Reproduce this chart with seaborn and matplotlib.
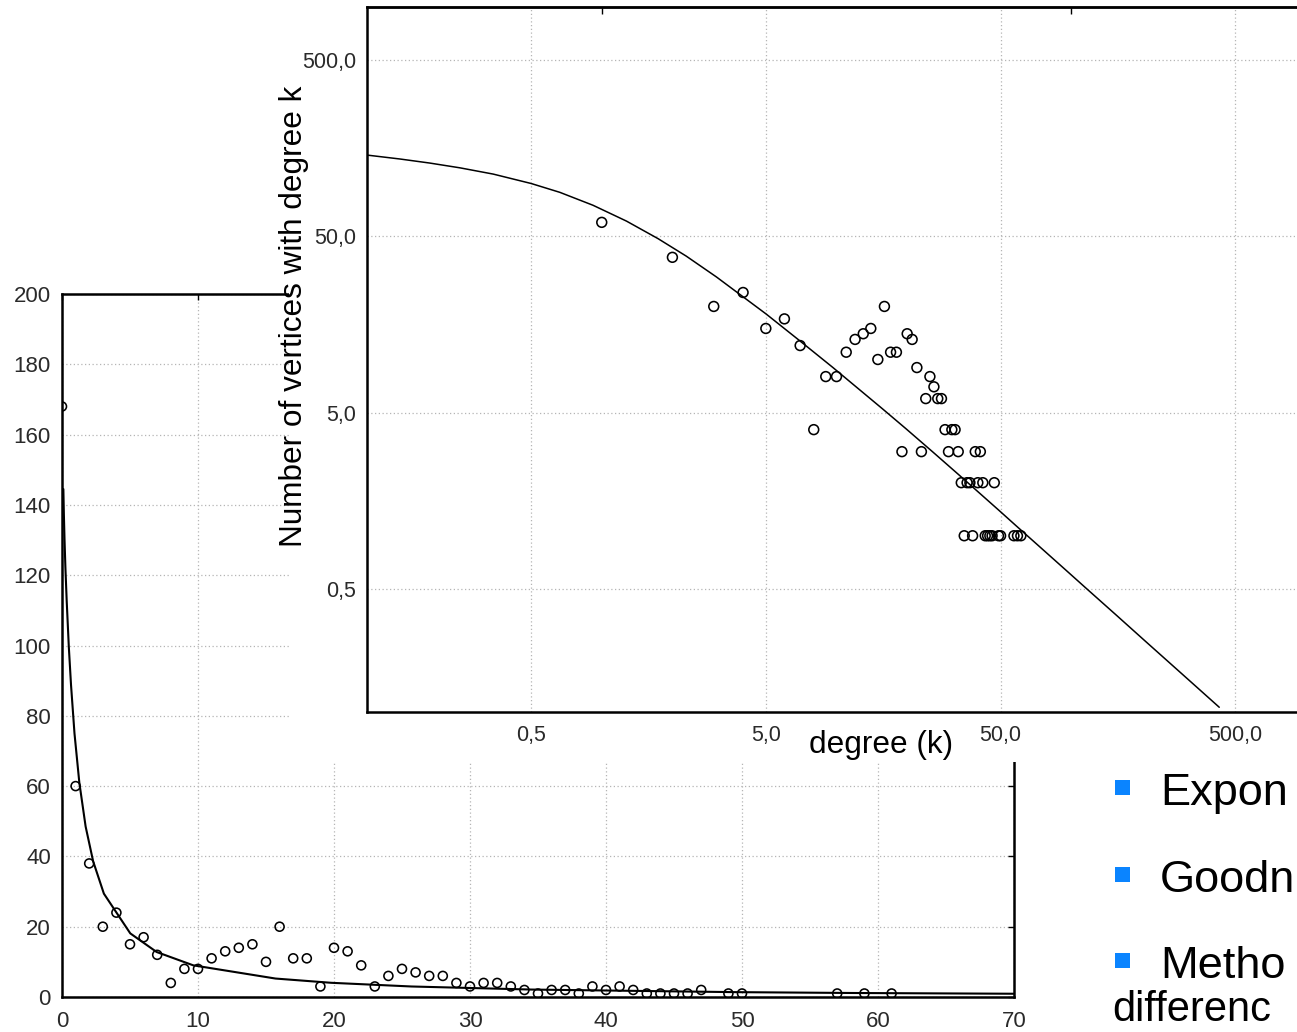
import matplotlib
matplotlib.use("Agg")
import matplotlib.pyplot as plt
import seaborn as sns
import pandas as pd
from matplotlib.patches import Rectangle
from matplotlib.ticker import FixedLocator, FixedFormatter, NullLocator, NullFormatter

# ---------------- data ----------------
degree = [0, 1, 2, 3, 4, 5, 6, 7, 8, 9, 10, 11, 12, 13, 14, 15, 16, 17, 18, 19,
          20, 21, 22, 23, 24, 25, 26, 27, 28, 29, 30, 31, 32, 33, 34, 35, 36, 37,
          38, 39, 40, 41, 42, 43, 44, 45, 46, 47, 49, 50, 57, 59, 61]
vertices = [168, 60, 38, 20, 24, 15, 17, 12, 4, 8, 8, 11, 13, 14, 15, 10, 20, 11, 11, 3,
            14, 13, 9, 3, 6, 8, 7, 6, 6, 4, 3, 4, 4, 3, 2, 1, 2, 2,
            1, 3, 2, 3, 2, 1, 1, 1, 1, 2, 1, 1, 1, 1, 1]

# fitted curve
fit_degree = [0.1, 0.138, 0.185, 0.249, 0.345, 0.5, 0.663, 0.918, 1.274, 1.737,
              2.29, 3.08, 5.02, 6.96, 9.65, 15.7, 19.8, 25.7, 34.5, 49.4, 58.2,
              73.1, 94.9, 117, 155, 208, 297.6, 427]
fit_vertices = [144.5, 137.3, 130.2, 122.3, 112.7, 99.7, 88.8, 75.0, 61.0, 48.5,
                38.6, 29.4, 18.1, 12.8, 9.01, 5.25, 4.04, 2.99, 2.12, 1.387, 1.14,
                0.870, 0.638, 0.497, 0.356, 0.2505, 0.1636, 0.1064]

lin_xticks = [0, 10, 20, 30, 40, 50, 60, 70]
lin_yticks = [0, 20, 40, 60, 80, 100, 120, 140, 160, 180, 200]
log_ticks = [0.5, 5, 50, 500]
log_tick_labels = ["0,5", "5,0", "50,0", "500,0"]
log_top_ticks = [1, 100]

x_label = "degree (k)"
y_label = "Number of vertices with degree k"
bullet_lines = ["Expon", "Goodn", "Metho"]
tail_line = "differenc"

# ---------------- setup ----------------
sns.set_style("white")
plt.rcParams['font.family'] = ['Liberation Sans', 'DejaVu Sans']

W, H = 1297, 1032
fig = plt.figure(figsize=(W / 100, H / 100), dpi=100)
fig.patch.set_facecolor("white")


def fx(px):
    return px / W


def fy(py):
    return 1 - py / H


df = pd.DataFrame({"k": degree, "n": vertices})
fit_df = pd.DataFrame({"k": fit_degree, "n": fit_vertices})

GRID = dict(linestyle=(0, (1, 2)), color="#b5b5b5", linewidth=0.9)
TICKCOL = "#2a2a2a"

# ---------------- background linear chart ----------------
ax1 = fig.add_axes([fx(62), fy(997), fx(1014) - fx(62), fy(294) - fy(997)])
ax1.set_zorder(0)
sns.lineplot(data=fit_df, x="k", y="n", ax=ax1, color="black", linewidth=1.5,
             sort=False, estimator=None)
sns.scatterplot(data=df, x="k", y="n", ax=ax1, s=42, linewidth=1.15, marker="o")
ax1.collections[-1].set_facecolor("none")
ax1.collections[-1].set_edgecolor("black")
ax1.set_xlim(0, 70)
ax1.set_ylim(0, 200)
ax1.set_xticks(lin_xticks)
ax1.set_yticks(lin_yticks)
ax1.set_xlabel("")
ax1.set_ylabel("")
ax1.grid(True, **GRID)
for sp in ax1.spines.values():
    sp.set_visible(True)
    sp.set_color("black")
    sp.set_linewidth(1.8)
ax1.tick_params(axis="both", direction="in", length=4, width=1, top=True, right=True,
                labelsize=16, labelcolor=TICKCOL, color="black")
ax1.tick_params(axis="x", pad=10)
ax1.tick_params(axis="y", pad=8)

# white panel holding the inset
panel = Rectangle((fx(289), fy(762)), 1 - fx(289), 1 - fy(762) + 0.01,
                  transform=fig.transFigure, facecolor="white", edgecolor="none",
                  zorder=1)
fig.add_artist(panel)

# ---------------- inset log-log chart ----------------
ax2 = fig.add_axes([fx(367), fy(712), (1306 - 367) / W, fy(7) - fy(712)])
ax2.set_zorder(2)
ax2.set_facecolor("white")
df_pos = df[df["k"] > 0]
sns.lineplot(data=fit_df, x="k", y="n", ax=ax2, color="black", linewidth=1.1,
             sort=False, estimator=None)
sns.scatterplot(data=df_pos, x="k", y="n", ax=ax2, s=50, linewidth=1.15, marker="o")
ax2.collections[-1].set_facecolor("none")
ax2.collections[-1].set_edgecolor("black")
ax2.set_xscale("log")
ax2.set_yscale("log")
ax2.set_xlim(0.1, 1000)
ax2.set_ylim(0.1, 1000)
for axis in (ax2.xaxis, ax2.yaxis):
    axis.set_major_locator(FixedLocator(log_ticks))
    axis.set_major_formatter(FixedFormatter(log_tick_labels))
    axis.set_minor_locator(NullLocator())
    axis.set_minor_formatter(NullFormatter())
ax2.set_xlabel("")
ax2.set_ylabel("")
ax2.grid(True, which="major", **GRID)
for sp in ax2.spines.values():
    sp.set_visible(True)
    sp.set_color("black")
    sp.set_linewidth(1.8)
ax2.tick_params(axis="both", direction="in", length=5, width=1, labelsize=15.5,
                labelcolor=TICKCOL, color="black")
ax2.tick_params(axis="x", pad=9)
ax2.tick_params(axis="y", pad=8)

sec = ax2.secondary_xaxis("top")
sec.set_xticks(log_top_ticks)
sec.xaxis.set_minor_locator(NullLocator())
sec.xaxis.set_major_formatter(NullFormatter())
sec.xaxis.set_minor_formatter(NullFormatter())
sec.tick_params(direction="in", length=5, width=1, color="black")
sec.spines["top"].set_linewidth(1.8)

# axis titles of the inset
fig.text(fx(294), fy(316), y_label, rotation=90, fontsize=22.7, ha="center",
         va="center", color="black", zorder=3)
fig.text(fx(881), fy(745), x_label, fontsize=22.7, ha="center", va="center",
         color="black", zorder=3)

# ---------------- slide bullets ----------------
bullet_y = [787.5, 874.5, 960.5]
baseline_y = [805, 892, 978]
for txt, by, bl in zip(bullet_lines, bullet_y, baseline_y):
    fig.add_artist(Rectangle((fx(1115), fy(by + 7.5)), 15 / W, 15 / H,
                             transform=fig.transFigure, facecolor="#0a84ff",
                             edgecolor="none", zorder=3))
    fig.text(fx(1160), fy(bl), txt, fontsize=32.5, ha="left", va="baseline",
             color="black", zorder=3)
fig.text(fx(1112), fy(1030), tail_line, fontsize=30, ha="left", va="bottom",
         color="black", zorder=3)

fig.savefig("out.png", dpi=100, facecolor="white")
